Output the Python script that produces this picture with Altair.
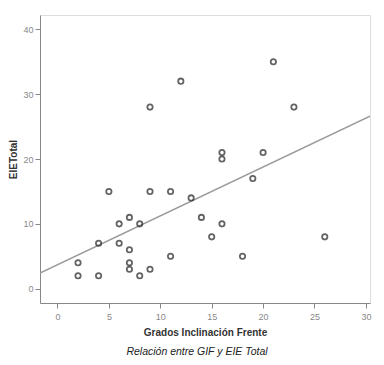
import altair as alt
import pandas as pd

gif = [2, 2, 4, 4, 5, 6, 6, 7, 7, 7, 7, 8, 8, 9, 9, 9, 11, 11, 12, 13, 14, 15, 16, 16, 16, 18, 19, 20, 21, 23, 26]
eie = [4, 2, 7, 2, 15, 10, 7, 11, 6, 4, 3, 10, 2, 28, 15, 3, 15, 5, 32, 14, 11, 8, 21, 20, 10, 5, 17, 21, 35, 28, 8]

x_ticks = [0, 5, 10, 15, 20, 25, 30]
y_ticks = [0, 10, 20, 30, 40]
x_domain = [-1.7, 30.4]
y_domain = [-2.2, 42.2]

df = pd.DataFrame({"GIF": gif, "EIETotal": eie})

xenc = alt.X("GIF:Q", title="Grados Inclinación Frente",
             scale=alt.Scale(domain=x_domain, nice=False, zero=False),
             axis=alt.Axis(values=x_ticks, grid=False, tickSize=5, domainColor="#888", tickColor="#888",
                           labelColor="#888", labelFontSize=9, labelFont="Liberation Sans",
                           titleFont="Liberation Sans", titleFontSize=10, titleFontWeight="bold",
                           titleColor="#333", titlePadding=6, labelPadding=4))
yenc = alt.Y("EIETotal:Q", title="EIETotal",
             scale=alt.Scale(domain=y_domain, nice=False, zero=False),
             axis=alt.Axis(values=y_ticks, grid=False, tickSize=5, domainColor="#888", tickColor="#888",
                           labelColor="#888", labelFontSize=9, labelFont="Liberation Sans",
                           titleFont="Liberation Sans", titleFontSize=10, titleFontWeight="bold",
                           titleColor="#333", titlePadding=4, labelPadding=2))

points = alt.Chart(df).mark_point(shape="circle", filled=False, size=28, strokeWidth=1.8,
                                   color="#222", clip=True).encode(x=xenc, y=yenc)

line = alt.Chart(df).transform_regression("GIF", "EIETotal", extent=x_domain).mark_line(
    color="#999", strokeWidth=1.5, clip=True).encode(x="GIF:Q", y="EIETotal:Q")

chart = alt.layer(line, points).properties(
    width=330, height=288,
    autosize=alt.AutoSizeParams(type="none"),
    padding={"left": 32, "top": 7, "right": 6, "bottom": 54},
    title=alt.TitleParams("Relación entre GIF y EIE Total", orient="bottom", fontSize=10.5,
                          fontStyle="italic", font="Liberation Sans", fontWeight="normal",
                          color="#222", offset=10, dx=-8),
).configure_view(stroke="#999", strokeWidth=1.2).configure(background="white")

chart.save("out.html", embed_options={"renderer": "svg", "actions": False})
